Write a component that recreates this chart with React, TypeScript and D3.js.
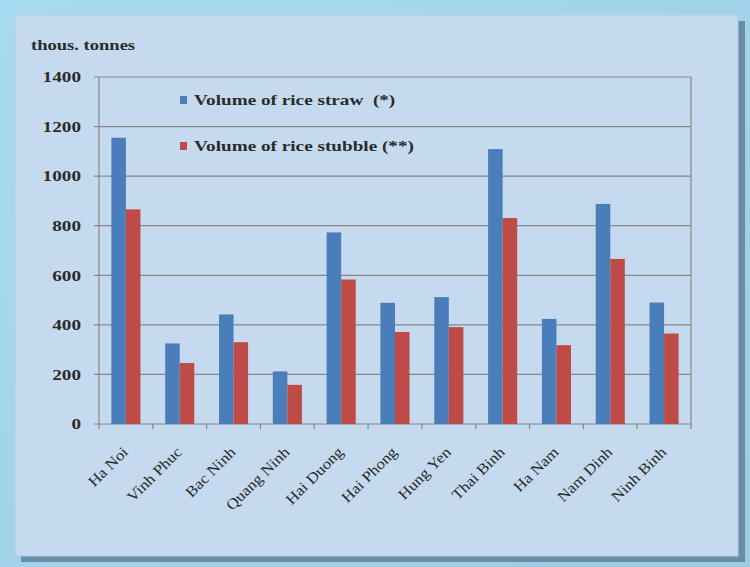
import React from "react";
import * as d3 from "d3";

const provinces = [
  "Ha Noi", "Vinh Phuc", "Bac Ninh", "Quang Ninh", "Hai Duong", "Hai Phong",
  "Hung Yen", "Thai Binh", "Ha Nam", "Nam Dinh", "Ninh Binh",
];
const riceStraw = [1155, 325, 442, 212, 773, 489, 512, 1109, 424, 888, 490];
const riceStubble = [866, 246, 330, 158, 583, 371, 391, 831, 318, 666, 365];
const seriesNames = ["Volume of rice straw  (*)", "Volume of rice stubble (**)"];
const seriesColors = ["#4a7ebb", "#be4b48"];
const yTicks = [0, 200, 400, 600, 800, 1000, 1200, 1400];
const unitLabel = "thous. tonnes";

const W = 750;
const H = 567;
const plot = { left: 99, right: 691, top: 77, bottom: 424 };
const serif = "'Liberation Serif', 'Times New Roman', serif";
// the chart's type is set wide: glyphs are stretched horizontally
const SX = 1.28;
const ink = "#2b2b2b";

export default function App() {
  const x = d3.scaleBand<string>().domain(provinces).range([plot.left, plot.right]);
  const inner = d3
    .scaleBand<number>()
    .domain([0, 1])
    .range([0, x.bandwidth()])
    .paddingOuter(0.85)
    .paddingInner(0);
  const y = d3.scaleLinear().domain([0, 1400]).range([plot.bottom, plot.top]);
  const series = [riceStraw, riceStubble];

  return (
    <svg
      width={W}
      height={H}
      style={{ position: "absolute", left: 0, top: 0 }}
      fontFamily={serif}
    >
      <defs>
        <linearGradient id="outerBg" x1="0" y1="0" x2="1" y2="1">
          <stop offset="0" stopColor="#a6dcf2" />
          <stop offset="1" stopColor="#9ccbe2" />
        </linearGradient>
      </defs>
      <rect x={0} y={0} width={W} height={H} fill="url(#outerBg)" />
      {/* panel drop shadow */}
      <rect x={21} y={21} width={724} height={541} fill="#6a8ca6" />
      <rect x={15} y={15} width={723} height={541} fill="#c5daee" stroke="#b3cde3" />

      <text
        transform={`translate(31 50) scale(${SX} 1)`}
        fontSize={14.5}
        fontWeight="bold"
        fill={ink}
      >
        {unitLabel}
      </text>

      {/* horizontal gridlines and value labels */}
      {yTicks.map((t) => (
        <g key={t}>
          <line
            x1={plot.left - 5}
            x2={plot.right}
            y1={y(t)}
            y2={y(t)}
            stroke="#878787"
            strokeWidth={1.2}
          />
          <text
            transform={`translate(81 ${y(t)}) scale(${SX} 1)`}
            dy="0.35em"
            textAnchor="end"
            fontSize={15}
            fontWeight="bold"
            fill={ink}
          >
            {t}
          </text>
        </g>
      ))}

      {/* bars */}
      {provinces.map((p, i) => (
        <g key={p}>
          {series.map((s, k) => (
            <rect
              key={k}
              x={(x(p) ?? 0) + (inner(k) ?? 0)}
              y={y(s[i])}
              width={inner.bandwidth()}
              height={y(0) - y(s[i])}
              fill={seriesColors[k]}
            />
          ))}
        </g>
      ))}

      {/* axes */}
      <line x1={plot.left} x2={plot.left} y1={plot.top} y2={plot.bottom} stroke="#878787" strokeWidth={1.2} />
      <line x1={plot.right} x2={plot.right} y1={plot.top} y2={plot.bottom} stroke="#878787" strokeWidth={1.2} />
      {[...provinces.map((p) => x(p) ?? 0), plot.right].map((tx, i) => (
        <line key={i} x1={tx} x2={tx} y1={plot.bottom} y2={plot.bottom + 5} stroke="#878787" strokeWidth={1.2} />
      ))}

      {/* category labels, slanted at 45 degrees */}
      {provinces.map((p) => {
        const cx = (x(p) ?? 0) + x.bandwidth() / 2 + 3;
        const cy = plot.bottom + 29;
        return (
          <text
            key={p}
            transform={`translate(${cx} ${cy}) rotate(-45) scale(1.12 1)`}
            textAnchor="end"
            fontSize={15}
            fill={ink}
          >
            {p}
          </text>
        );
      })}

      {/* legend */}
      {seriesNames.map((name, k) => (
        <g key={name} transform={`translate(180 ${100 + k * 46})`}>
          <rect x={0} y={-4} width={7} height={8} fill={seriesColors[k]} />
          <text
            transform={`translate(14 0) scale(${SX} 1)`}
            dy="0.35em"
            fontSize={15}
            fontWeight={600}
            fill={ink}
            style={{ whiteSpace: "pre" }}
          >
            {name}
          </text>
        </g>
      ))}
    </svg>
  );
}
